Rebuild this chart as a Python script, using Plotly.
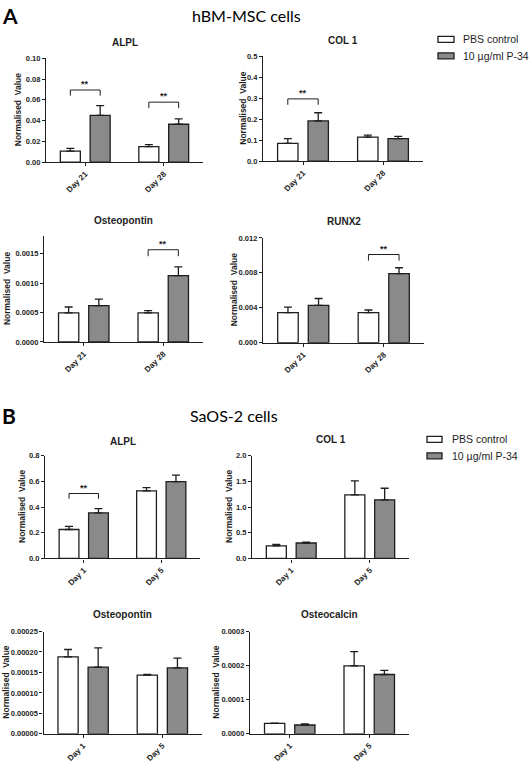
import plotly.graph_objects as go

W, H = 529, 764

# ---------------- data ----------------
A_days = ["Day 21", "Day 28"]
B_days = ["Day 1", "Day 5"]
groups = ["PBS control", "10 µg/ml P-34"]

# Section A: hBM-MSC cells
A_alpl_pbs = [0.0105, 0.0150]
A_alpl_pbs_err = [0.0028, 0.0019]
A_alpl_p34 = [0.0450, 0.0365]
A_alpl_p34_err = [0.0095, 0.0051]

A_col1_pbs = [0.085, 0.115]
A_col1_pbs_err = [0.022, 0.009]
A_col1_p34 = [0.192, 0.107]
A_col1_p34_err = [0.039, 0.011]

A_opn_pbs = [0.000495, 0.000495]
A_opn_pbs_err = [0.000100, 0.000040]
A_opn_p34 = [0.00062, 0.00113]
A_opn_p34_err = [0.00011, 0.00015]

A_runx2_pbs = [0.00344, 0.00344]
A_runx2_pbs_err = [0.00064, 0.00030]
A_runx2_p34 = [0.00427, 0.00790]
A_runx2_p34_err = [0.00079, 0.00068]

# Section B: SaOS-2 cells
B_alpl_pbs = [0.225, 0.525]
B_alpl_pbs_err = [0.024, 0.026]
B_alpl_p34 = [0.354, 0.598]
B_alpl_p34_err = [0.033, 0.050]

B_col1_pbs = [0.244, 1.237]
B_col1_pbs_err = [0.030, 0.273]
B_col1_p34 = [0.300, 1.140]
B_col1_p34_err = [0.015, 0.225]

B_opn_pbs = [0.000188, 0.0001435]
B_opn_pbs_err = [0.000018, 0.0000015]
B_opn_p34 = [0.000163, 0.000161]
B_opn_p34_err = [0.000047, 0.000024]

B_ocn_pbs = [0.0000307, 0.000199]
B_ocn_pbs_err = [0.0000006, 0.000042]
B_ocn_p34 = [0.0000258, 0.000174]
B_ocn_p34_err = [0.000003, 0.000012]

# y tick values / labels
A_alpl_ticks = [0, 0.02, 0.04, 0.06, 0.08, 0.10]
A_alpl_ticktext = ["0.00", "0.02", "0.04", "0.06", "0.08", "0.10"]
A_col1_ticks = [0, 0.1, 0.2, 0.3, 0.4, 0.5]
A_col1_ticktext = ["0.0", "0.1", "0.2", "0.3", "0.4", "0.5"]
A_opn_ticks = [0, 0.0005, 0.0010, 0.0015]
A_opn_ticktext = ["0.0000", "0.0005", "0.0010", "0.0015"]
A_runx2_ticks = [0, 0.004, 0.008, 0.012]
A_runx2_ticktext = ["0.000", "0.004", "0.008", "0.012"]
B_alpl_ticks = [0, 0.2, 0.4, 0.6, 0.8]
B_alpl_ticktext = ["0.0", "0.2", "0.4", "0.6", "0.8"]
B_col1_ticks = [0, 0.5, 1.0, 1.5, 2.0]
B_col1_ticktext = ["0.0", "0.5", "1.0", "1.5", "2.0"]
B_opn_ticks = [0, 0.00005, 0.00010, 0.00015, 0.00020, 0.00025]
B_opn_ticktext = ["0.00000", "0.00005", "0.00010", "0.00015", "0.00020", "0.00025"]
B_ocn_ticks = [0, 0.0001, 0.0002, 0.0003]
B_ocn_ticktext = ["0.0000", "0.0001", "0.0002", "0.0003"]

# significance brackets: (category index, bracket height, tick bottom)
A_alpl_sig = [(0, 0.0695, 0.0640), (1, 0.0578, 0.0520)]
A_col1_sig = [(0, 0.297, 0.269)]
A_opn_sig = [(1, 0.00157, 0.00146)]
A_runx2_sig = [(1, 0.0101, 0.0094)]
B_alpl_sig = [(0, 0.505, 0.464)]

# ---------------- layout helpers ----------------
def px_x(v):
    return v / W

def px_y(v):
    return 1 - v / H

FONT = "Liberation Sans, Arial, sans-serif"
HEAD = "Lato, Open Sans, sans-serif"
INK = "#1e1e1e"
GRAY = "#8a8a8a"
BW = 0.255       # bar width (category units)
OFF = 0.19       # half distance between bar centres

panels = [
    dict(title="ALPL", cats=A_days, pbs=A_alpl_pbs, pe=A_alpl_pbs_err, p34=A_alpl_p34, qe=A_alpl_p34_err,
         ymax=0.10, ticks=A_alpl_ticks, tt=A_alpl_ticktext, sig=A_alpl_sig,
         xpx=(46, 203), ypx=(55, 160), ytx=18, tty=39),
    dict(title="COL 1", cats=A_days, pbs=A_col1_pbs, pe=A_col1_pbs_err, p34=A_col1_p34, qe=A_col1_p34_err,
         ymax=0.5, ticks=A_col1_ticks, tt=A_col1_ticktext, sig=A_col1_sig,
         xpx=(263, 423), ypx=(53, 159), ytx=243, tty=37),
    dict(title="Osteopontin", cats=A_days, pbs=A_opn_pbs, pe=A_opn_pbs_err, p34=A_opn_p34, qe=A_opn_p34_err,
         ymax=0.0018, ticks=A_opn_ticks, tt=A_opn_ticktext, sig=A_opn_sig,
         xpx=(44, 203), ypx=(235, 342), ytx=7, tty=219),
    dict(title="RUNX2", cats=A_days, pbs=A_runx2_pbs, pe=A_runx2_pbs_err, p34=A_runx2_p34, qe=A_runx2_p34_err,
         ymax=0.012, ticks=A_runx2_ticks, tt=A_runx2_ticktext, sig=A_runx2_sig,
         xpx=(263, 424), ypx=(236.7, 342.7), ytx=234, tty=220.5),
    dict(title="ALPL", cats=B_days, pbs=B_alpl_pbs, pe=B_alpl_pbs_err, p34=B_alpl_p34, qe=B_alpl_p34_err,
         ymax=0.8, ticks=B_alpl_ticks, tt=B_alpl_ticktext, sig=B_alpl_sig,
         xpx=(45, 200), ypx=(457, 561), ytx=22, tty=443),
    dict(title="COL 1", cats=B_days, pbs=B_col1_pbs, pe=B_col1_pbs_err, p34=B_col1_p34, qe=B_col1_p34_err,
         ymax=2.0, ticks=B_col1_ticks, tt=B_col1_ticktext, sig=[],
         xpx=(252, 409), ypx=(457, 561), ytx=229, tty=441),
    dict(title="Osteopontin", cats=B_days, pbs=B_opn_pbs, pe=B_opn_pbs_err, p34=B_opn_p34, qe=B_opn_p34_err,
         ymax=0.00025, ticks=B_opn_ticks, tt=B_opn_ticktext, sig=[],
         xpx=(43.5, 202), ypx=(635, 738.5), ytx=6, tty=618),
    dict(title="Osteocalcin", cats=B_days, pbs=B_ocn_pbs, pe=B_ocn_pbs_err, p34=B_ocn_p34, qe=B_ocn_p34_err,
         ymax=0.0003, ticks=B_ocn_ticks, tt=B_ocn_ticktext, sig=[],
         xpx=(250, 409), ypx=(635, 738.5), ytx=216, tty=618),
]

fig = go.Figure()
annotations = []
shapes = []
layout_axes = {}

for i, p in enumerate(panels, start=1):
    xa = "x" if i == 1 else f"x{i}"
    ya = "y" if i == 1 else f"y{i}"
    xpos = [0, 1]
    for name, vals, errs, fill, off in [
        (groups[0], p["pbs"], p["pe"], "white", -OFF - BW / 2),
        (groups[1], p["p34"], p["qe"], GRAY, OFF - BW / 2),
    ]:
        fig.add_trace(go.Bar(
            x=xpos, y=vals, name=name, xaxis=xa, yaxis=ya,
            width=BW, offset=off, showlegend=False,
            marker=dict(color=fill, line=dict(color=INK, width=1.3)),
            error_y=dict(type="data", symmetric=False, array=errs, arrayminus=[0] * len(errs),
                         color=INK, thickness=1.3, width=4),
        ))
    x0, x1 = p["xpx"]
    ytop, ybot = p["ypx"]
    layout_axes["xaxis" if i == 1 else f"xaxis{i}"] = dict(
        domain=[px_x(x0), px_x(x1)], anchor=ya, range=[-0.5, 1.5],
        tickvals=xpos, ticktext=p["cats"], tickangle=-45,
        ticks="outside", ticklen=3, tickwidth=1.2, tickcolor=INK,
        showline=True, linecolor=INK, linewidth=1.3,
        showgrid=False, zeroline=False, fixedrange=True,
        tickfont=dict(family=FONT, size=8, color=INK, weight="bold"),
    )
    layout_axes["yaxis" if i == 1 else f"yaxis{i}"] = dict(
        domain=[px_y(ybot), px_y(ytop)], anchor=xa, range=[0, p["ymax"]],
        tickvals=p["ticks"], ticktext=p["tt"],
        ticks="outside", ticklen=3, tickwidth=1.2, tickcolor=INK,
        showline=True, linecolor=INK, linewidth=1.3,
        showgrid=False, zeroline=False, fixedrange=True,
        tickfont=dict(family=FONT, size=7.5, color=INK, weight="bold"),
    )
    # panel title
    annotations.append(dict(
        text=p["title"], xref="paper", yref="paper",
        x=px_x((x0 + x1) / 2), y=px_y(p["tty"]), xanchor="center", yanchor="middle",
        showarrow=False, font=dict(family=FONT, size=10, color=INK, weight="bold"),
    ))
    # y axis title
    annotations.append(dict(
        text="Normalised  Value", xref="paper", yref="paper",
        x=px_x(p["ytx"]), y=px_y((ytop + ybot) / 2), xanchor="center", yanchor="middle",
        textangle=-90, showarrow=False,
        font=dict(family=FONT, size=8.5, color=INK, weight="bold"),
    ))
    # significance brackets
    for cat, yl, yb in p["sig"]:
        xl, xr = cat - OFF, cat + OFF
        for sx0, sy0, sx1, sy1 in [(xl, yl, xr, yl), (xl, yb, xl, yl), (xr, yb, xr, yl)]:
            shapes.append(dict(type="line", xref=xa, yref=ya, x0=sx0, y0=sy0, x1=sx1, y1=sy1,
                               line=dict(color=INK, width=1)))
        annotations.append(dict(
            text="**", xref=xa, yref=ya, x=cat, y=yl, xanchor="center", yanchor="bottom",
            yshift=-1, showarrow=False, font=dict(family=FONT, size=9, color=INK, weight="bold"),
        ))

# section headings
for letter, label, ly, lx_text in [("A", "hBM-MSC cells", 11.5, 190), ("B", "SaOS-2 cells", 416, 188)]:
    annotations.append(dict(text=letter, xref="paper", yref="paper", x=px_x(0), y=px_y(ly),
                            xanchor="left", yanchor="middle", showarrow=False,
                            font=dict(family=HEAD, size=21, color="#000", weight="bold")))
    annotations.append(dict(text=label, xref="paper", yref="paper", x=px_x(lx_text), y=px_y(ly + 0.5),
                            xanchor="left", yanchor="middle", showarrow=False,
                            font=dict(family=HEAD, size=16, color="#000")))

# legends (one per section)
for bx0, bx1, yc1, yc2, tx in [(438, 454, 35.8, 52.5, 461), (427, 442, 440.5, 457.2, 450)]:
    for yc, fill, label in [(yc1, "white", groups[0]), (yc2, GRAY, groups[1])]:
        shapes.append(dict(type="rect", xref="paper", yref="paper",
                           x0=px_x(bx0), x1=px_x(bx1), y0=px_y(yc + 3), y1=px_y(yc - 3),
                           fillcolor=fill, line=dict(color=INK, width=1.3)))
        annotations.append(dict(text=label, xref="paper", yref="paper", x=px_x(tx), y=px_y(yc),
                                xanchor="left", yanchor="middle", showarrow=False,
                                font=dict(family=FONT, size=10.5, color=INK)))

fig.update_layout(
    width=W, height=H, margin=dict(l=0, r=0, t=0, b=0),
    paper_bgcolor="white", plot_bgcolor="white",
    barmode="overlay", showlegend=False,
    annotations=annotations, shapes=shapes,
    **layout_axes,
)

fig.write_html("out.html", config={"displayModeBar": False},
               post_script="document.body.style.margin='0';document.body.style.overflow='hidden';")
